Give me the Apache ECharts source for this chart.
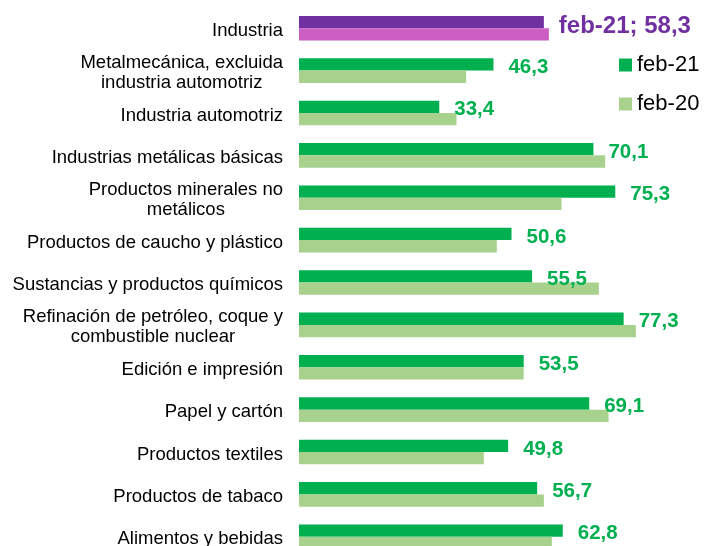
<!DOCTYPE html>
<html>
<head>
<meta charset="utf-8">
<script src="https://cdn.jsdelivr.net/npm/echarts@6/dist/echarts.min.js"></script>
<style>
  html, body { margin: 0; padding: 0; background: #fff; }
  #chart { width: 707px; height: 546px; }
</style>
</head>
<body>
<div id="chart"></div>
<script>
let categories = [
  'Industria',
  'Metalmecánica, excluida\nindustria automotriz',
  'Industria automotriz',
  'Industrias metálicas básicas',
  'Productos minerales no\nmetálicos',
  'Productos de caucho y plástico',
  'Sustancias y productos químicos',
  'Refinación de petróleo, coque y\ncombustible nuclear',
  'Edición e impresión',
  'Papel y cartón',
  'Productos textiles',
  'Productos de tabaco',
  'Alimentos y bebidas'
];
let feb21 = [58.3, 46.3, 33.4, 70.1, 75.3, 50.6, 55.5, 77.3, 53.5, 69.1, 49.8, 56.7, 62.8];
let feb20 = [59.5, 39.8, 37.5, 72.9, 62.5, 47.1, 71.4, 80.2, 53.5, 73.7, 44.0, 58.3, 60.2];

let green = '#00B050', lightGreen = '#A9D18E';
let purple = '#7030A0', lightPurple = '#CC5FC4';

function fmt(v){
  return v.toFixed(1).replace('.', ',');
}

let mychart = echarts.init(document.getElementById('chart'));
mychart.setOption({
  animation: false,
  textStyle: { fontFamily: 'Arial, "Liberation Sans", sans-serif' },
  legend: {
    orient: 'vertical',
    left: 619,
    top: 54,
    padding: 0,
    itemWidth: 13,
    itemHeight: 13,
    itemGap: 17,
    icon: 'rect',
    textStyle: { fontSize: 22, color: '#000' },
    data: ['feb-21', 'feb-20']
  },
  grid: { left: 299, top: 7, width: 420, height: 551, outerBoundsMode: 'none' },
  xAxis: {
    type: 'value',
    min: 0,
    max: 100,
    show: false
  },
  yAxis: {
    type: 'category',
    inverse: true,
    data: categories,
    axisLine: { show: false },
    axisTick: { show: false },
    axisLabel: {
      margin: 16,
      color: '#000',
      fontSize: 18.5,
      lineHeight: 20,
      padding: [5, 0, 0, 0],
      formatter: function(val){
        return val.split('\n').map(function(s){ return '{c|' + s + '}'; }).join('\n');
      },
      rich: {
        c: { align: 'center', fontSize: 18.5, lineHeight: 20, color: '#000' }
      }
    }
  },
  series: [
    {
      name: 'feb-21',
      type: 'bar',
      barWidth: 12.3,
      barGap: '0%',
      itemStyle: { color: green },
      data: feb21.map(function(v, i){
        if (i === 0) {
          return { value: v, itemStyle: { color: purple } };
        }
        return v;
      }),
      label: {
        show: true,
        position: 'right',
        distance: 15,
        offset: [0, 3],
        fontSize: 20.5,
        fontWeight: 'bold',
        color: green,
        formatter: function(p){
          if (p.dataIndex === 0) {
            return '{big|feb-21; ' + fmt(p.value) + '}';
          }
          return fmt(p.value);
        },
        rich: {
          big: { fontSize: 24, fontWeight: 'bold', color: purple, padding: [2, 0, 0, 0] }
        }
      }
    },
    {
      name: 'feb-20',
      type: 'bar',
      barWidth: 12.3,
      itemStyle: { color: lightGreen },
      data: feb20.map(function(v, i){
        if (i === 0) {
          return { value: v, itemStyle: { color: lightPurple } };
        }
        return v;
      })
    }
  ]
});
</script>
</body>
</html>
